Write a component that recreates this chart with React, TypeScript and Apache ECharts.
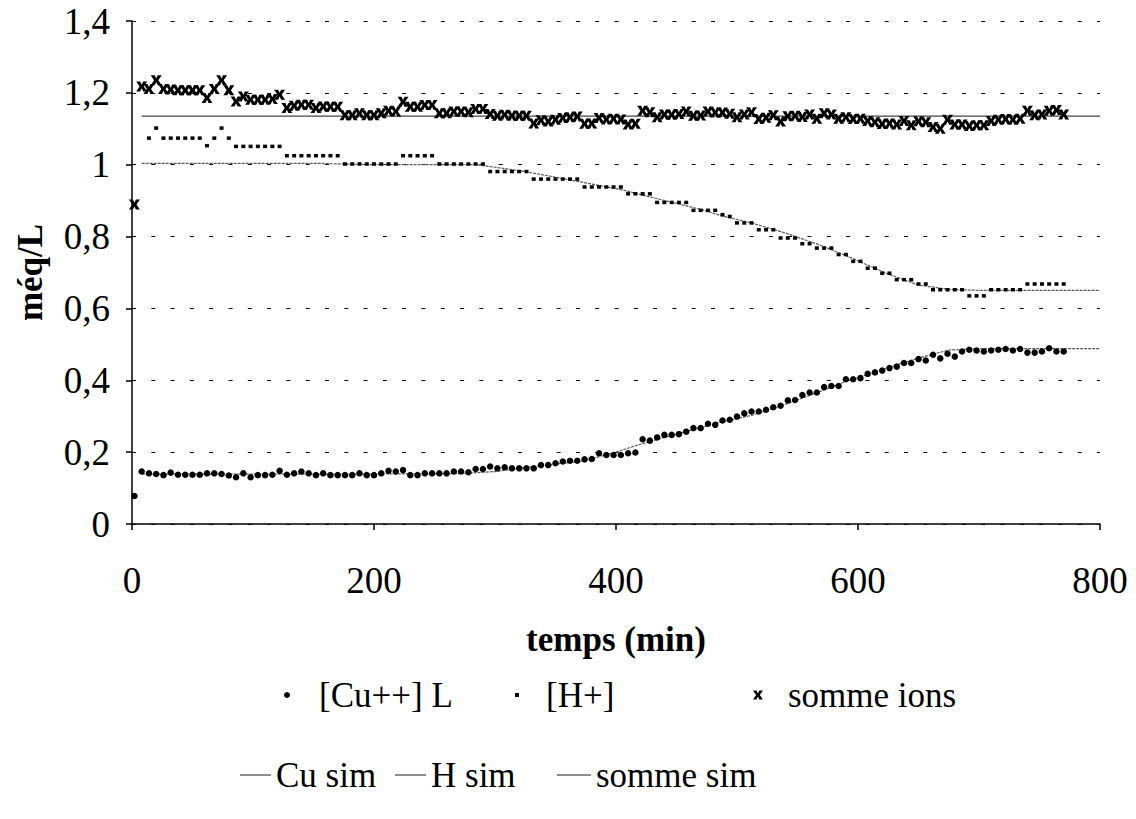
import React, { useEffect, useRef } from "react";
import * as echarts from "echarts";

// sampling times (min)
const times = [
  2, 8, 14, 20, 26, 32, 38, 44, 50, 56,
  62, 68, 74, 80, 86, 92, 98, 104, 110, 116,
  122, 128, 134, 140, 146, 152, 158, 164, 170, 176,
  182, 188, 194, 200, 206, 212, 218, 224, 230, 236,
  242, 248, 254, 260, 266, 272, 278, 284, 290, 296,
  302, 308, 314, 320, 326, 332, 338, 344, 350, 356,
  362, 368, 374, 380, 386, 392, 398, 404, 410, 416,
  422, 428, 434, 440, 446, 452, 458, 464, 470, 476,
  482, 488, 494, 500, 506, 512, 518, 524, 530, 536,
  542, 548, 554, 560, 566, 572, 578, 584, 590, 596,
  602, 608, 614, 620, 626, 632, 638, 644, 650, 656,
  662, 668, 674, 680, 686, 692, 698, 704, 710, 716,
  722, 728, 734, 740, 746, 752, 758, 764, 770,
];

// [Cu++] L (méq/L)
const cuValues = [
  0.078, 0.146, 0.141, 0.139, 0.136, 0.143, 0.137, 0.137, 0.137, 0.137,
  0.141, 0.141, 0.139, 0.135, 0.130, 0.141, 0.130, 0.136, 0.136, 0.137,
  0.148, 0.137, 0.141, 0.146, 0.141, 0.136, 0.141, 0.136, 0.136, 0.136,
  0.136, 0.141, 0.136, 0.136, 0.141, 0.148, 0.146, 0.150, 0.136, 0.136,
  0.141, 0.141, 0.141, 0.141, 0.146, 0.146, 0.144, 0.153, 0.153, 0.160,
  0.155, 0.158, 0.155, 0.155, 0.155, 0.155, 0.164, 0.164, 0.169, 0.174,
  0.176, 0.176, 0.180, 0.181, 0.197, 0.192, 0.192, 0.192, 0.197, 0.199,
  0.236, 0.232, 0.241, 0.248, 0.248, 0.250, 0.257, 0.267, 0.267, 0.279,
  0.276, 0.288, 0.290, 0.299, 0.308, 0.313, 0.313, 0.318, 0.325, 0.329,
  0.344, 0.345, 0.359, 0.366, 0.366, 0.381, 0.384, 0.384, 0.403, 0.403,
  0.406, 0.418, 0.422, 0.427, 0.434, 0.438, 0.448, 0.448, 0.459, 0.455,
  0.471, 0.461, 0.474, 0.466, 0.480, 0.485, 0.483, 0.480, 0.483, 0.485,
  0.487, 0.483, 0.487, 0.477, 0.477, 0.480, 0.489, 0.480, 0.480,
];

// [H+] (méq/L)
const hValues = [
  null, null, 1.074, 1.102, 1.074, 1.074, 1.074, 1.074, 1.074, 1.074,
  1.053, 1.074, 1.102, 1.074, 1.051, 1.051, 1.051, 1.051, 1.051, 1.051,
  1.051, 1.025, 1.025, 1.025, 1.025, 1.025, 1.025, 1.025, 1.025, 1.002,
  1.002, 1.002, 1.002, 1.002, 1.002, 1.002, 1.002, 1.025, 1.025, 1.025,
  1.025, 1.025, 1.002, 1.002, 1.002, 1.002, 1.002, 1.002, 1.002, 0.981,
  0.981, 0.981, 0.981, 0.981, 0.981, 0.960, 0.960, 0.960, 0.960, 0.960,
  0.960, 0.960, 0.938, 0.938, 0.938, 0.938, 0.938, 0.938, 0.919, 0.919,
  0.919, 0.919, 0.895, 0.895, 0.895, 0.895, 0.895, 0.873, 0.873, 0.873,
  0.873, 0.861, 0.856, 0.838, 0.838, 0.838, 0.819, 0.819, 0.819, 0.796,
  0.796, 0.796, 0.780, 0.780, 0.768, 0.768, 0.768, 0.750, 0.750, 0.731,
  0.731, 0.712, 0.712, 0.698, 0.698, 0.680, 0.680, 0.680, 0.668, 0.668,
  0.652, 0.652, 0.652, 0.652, 0.652, 0.635, 0.635, 0.635, 0.652, 0.652,
  0.652, 0.652, 0.652, 0.668, 0.668, 0.668, 0.668, 0.668, 0.668,
];

// somme ions (méq/L)
const sumValues = [
  0.889, 1.218, 1.211, 1.235, 1.211, 1.209, 1.207, 1.207, 1.207, 1.207,
  1.186, 1.211, 1.235, 1.207, 1.176, 1.190, 1.181, 1.181, 1.181, 1.183,
  1.195, 1.158, 1.164, 1.167, 1.167, 1.158, 1.162, 1.161, 1.161, 1.138,
  1.138, 1.143, 1.138, 1.138, 1.143, 1.150, 1.148, 1.175, 1.161, 1.161,
  1.166, 1.166, 1.143, 1.143, 1.148, 1.148, 1.146, 1.155, 1.155, 1.141,
  1.136, 1.139, 1.136, 1.136, 1.136, 1.115, 1.124, 1.120, 1.125, 1.130,
  1.132, 1.134, 1.114, 1.115, 1.130, 1.126, 1.128, 1.126, 1.112, 1.114,
  1.150, 1.146, 1.132, 1.140, 1.139, 1.141, 1.148, 1.136, 1.137, 1.148,
  1.145, 1.145, 1.142, 1.132, 1.140, 1.146, 1.127, 1.131, 1.138, 1.120,
  1.135, 1.136, 1.133, 1.140, 1.128, 1.143, 1.140, 1.128, 1.132, 1.127,
  1.128, 1.122, 1.118, 1.113, 1.115, 1.112, 1.122, 1.110, 1.121, 1.118,
  1.105, 1.100, 1.125, 1.112, 1.112, 1.108, 1.110, 1.110, 1.122, 1.125,
  1.127, 1.125, 1.128, 1.150, 1.138, 1.140, 1.150, 1.152, 1.140,
];

// simulations
const cuSimT = [8, 100, 200, 270, 300, 325, 372, 400, 420, 450, 488, 513, 540, 568, 590, 620, 650, 675, 700, 800];
const cuSimV = [0.139, 0.139, 0.139, 0.14, 0.146, 0.157, 0.175, 0.2, 0.222, 0.25, 0.285, 0.303, 0.333, 0.368, 0.397, 0.43, 0.462, 0.484, 0.488, 0.488];
const hSimT = [8, 150, 200, 285, 300, 325, 366, 405, 438, 471, 488, 513, 540, 568, 595, 623, 650, 675, 703, 800];
const hSimV = [1.004, 1.004, 1.0, 1.0, 0.993, 0.981, 0.955, 0.93, 0.902, 0.875, 0.857, 0.837, 0.81, 0.777, 0.74, 0.698, 0.665, 0.653, 0.65, 0.65];
const sumSimT = [8, 800];
const sumSimV = [1.135, 1.135];

const yMin = 0;
const yMax = 1.4;
const yStep = 0.2;
const xMin = 0;
const xMax = 800;
const xStep = 200;

const FONT = "'Liberation Serif', 'Times New Roman', serif";
const X_SYMBOL = "path://M0,0H4L5.5,3.2L7,0H11L7.6,5L11,10H7L5.5,6.8L4,10H0L3.4,5Z";

const pairs = (xs: number[], ys: (number | null)[]) =>
  xs.map((x, i) => [x, ys[i]]).filter((p) => p[1] !== null);

const legendItem = (
  name: string,
  left: number,
  top: number,
  w: number,
  h: number,
  pad: number,
  extra: any = {}
) => ({
  data: [name],
  left,
  top,
  orient: "horizontal",
  itemWidth: w,
  itemHeight: h,
  selectedMode: false,
  padding: 0,
  textStyle: {
    fontFamily: FONT,
    fontSize: 35,
    color: "#000",
    lineHeight: 36,
    padding: [0, 0, 0, pad],
  },
  ...extra,
});

export default function App() {
  const ref = useRef<HTMLDivElement>(null);

  useEffect(() => {
    if (!ref.current) return;
    const chart = echarts.init(ref.current, null, { renderer: "svg" });
    const simLine = { color: "#5a5a5a", width: 1.2, type: [3, 1] as any };
    const lineLegend = { icon: "rect", itemStyle: { color: "#6a6a6a", opacity: 1 } };
    chart.setOption({
      animation: false,
      backgroundColor: "#fff",
      grid: { left: 132, right: 36, top: 21, bottom: 295, containLabel: false },
      xAxis: {
        type: "value",
        min: xMin,
        max: xMax,
        interval: xStep,
        name: "temps (min)",
        nameLocation: "middle",
        nameGap: 98,
        nameTextStyle: { fontFamily: FONT, fontSize: 35, fontWeight: "bold", color: "#000" },
        axisLine: { show: true, lineStyle: { color: "#000", width: 1.5 } },
        axisTick: { show: true, inside: false, length: 6, lineStyle: { color: "#000", width: 1.5 } },
        axisLabel: { fontFamily: FONT, fontSize: 37, color: "#000", margin: 38 },
        splitLine: { show: false },
      },
      yAxis: {
        type: "value",
        min: yMin,
        max: yMax,
        interval: yStep,
        name: "méq/L",
        nameLocation: "middle",
        nameRotate: 90,
        nameGap: 84,
        nameTextStyle: { fontFamily: FONT, fontSize: 35, fontWeight: "bold", color: "#000" },
        axisLine: { show: true, lineStyle: { color: "#000", width: 1.5 } },
        axisTick: { show: true, inside: false, length: 6, lineStyle: { color: "#000", width: 1.5 } },
        axisLabel: {
          fontFamily: FONT,
          fontSize: 37,
          color: "#000",
          margin: 22,
          formatter: (v: number) => String(Math.round(v * 10) / 10).replace(".", ","),
        },
        splitLine: { show: true, lineStyle: { color: "#000", width: 1, type: [4, 15.3] } },
      },
      legend: [
        legendItem("[Cu++] L", 284, 677, 6, 6, 24),
        legendItem("[H+]", 515, 677, 4, 4, 22),
        legendItem("somme ions", 753, 677, 10, 9, 20),
        legendItem("Cu sim", 240, 757, 31, 1.5, 0, lineLegend),
        legendItem("H sim", 395, 757, 31, 1.5, 0, lineLegend),
        legendItem("somme sim", 557, 757, 34, 1.5, 0, lineLegend),
      ],
      series: [
        {
          name: "Cu sim",
          type: "line",
          data: pairs(cuSimT, cuSimV),
          symbol: "none",
          showSymbol: false,
          lineStyle: simLine,
          itemStyle: { color: "#5a5a5a" },
          z: 1,
        },
        {
          name: "H sim",
          type: "line",
          data: pairs(hSimT, hSimV),
          symbol: "none",
          showSymbol: false,
          lineStyle: simLine,
          itemStyle: { color: "#5a5a5a" },
          z: 1,
        },
        {
          name: "somme sim",
          type: "line",
          data: pairs(sumSimT, sumSimV),
          symbol: "none",
          showSymbol: false,
          lineStyle: { color: "#444", width: 1.3 },
          itemStyle: { color: "#444" },
          z: 1,
        },
        {
          name: "[Cu++] L",
          type: "scatter",
          data: pairs(times, cuValues),
          symbol: "circle",
          symbolSize: 6.5,
          itemStyle: { color: "#000", opacity: 1 },
          z: 3,
        },
        {
          name: "[H+]",
          type: "scatter",
          data: pairs(times, hValues),
          symbol: "rect",
          symbolSize: [4, 3.5],
          itemStyle: { color: "#000", opacity: 1 },
          z: 3,
        },
        {
          name: "somme ions",
          type: "scatter",
          data: pairs(times, sumValues),
          symbol: X_SYMBOL,
          symbolSize: [11, 10],
          itemStyle: { color: "#000", opacity: 1 },
          z: 3,
        },
      ],
    });
    return () => chart.dispose();
  }, []);

  return (
    <div
      ref={ref}
      style={{ position: "fixed", left: 0, top: 0, width: 1136, height: 819, background: "#fff" }}
    />
  );
}
